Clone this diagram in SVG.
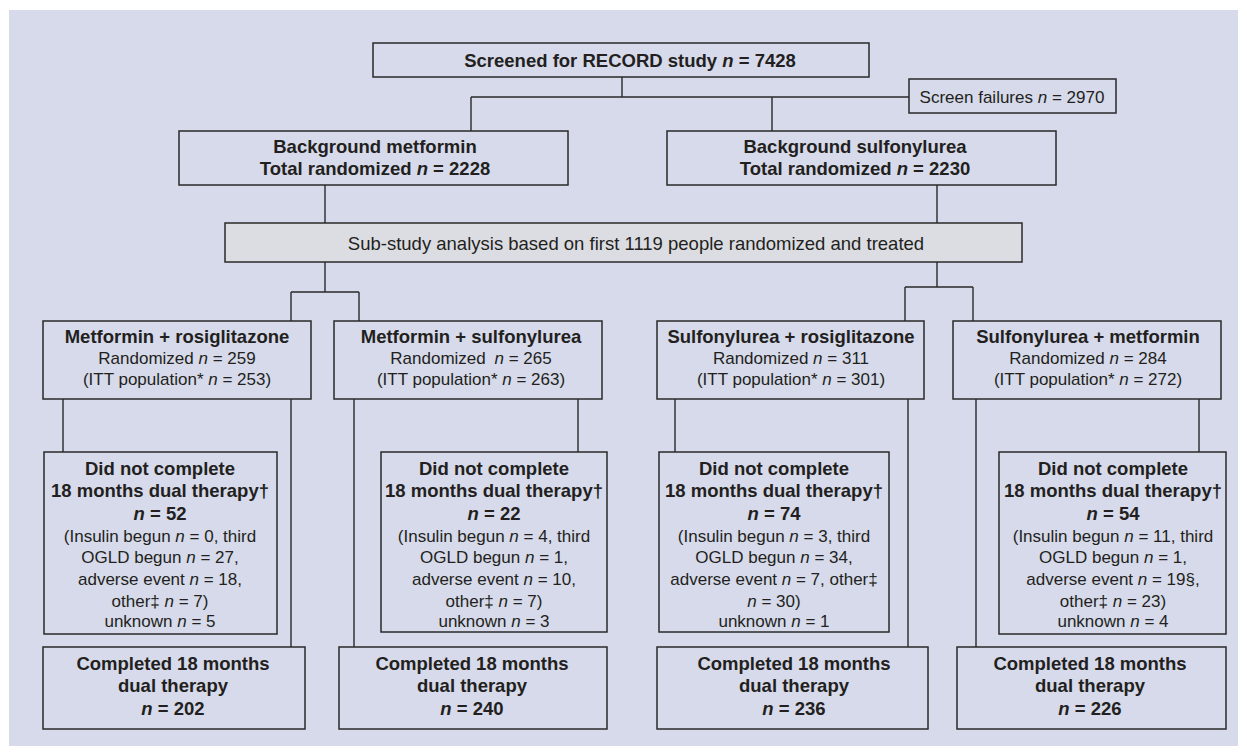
<svg xmlns="http://www.w3.org/2000/svg" width="1247" height="756" viewBox="0 0 1247 756">
<style>
.bg{fill:#D6DAEA}
.box{fill:none;stroke:#2a2a2a;stroke-width:1.5}
.grey{fill:#DCDDE2;stroke:#2a2a2a;stroke-width:1.5}
.ln{fill:none;stroke:#2a2a2a;stroke-width:1.4}
text{font-family:"Liberation Sans",Arial,sans-serif;fill:#231F20;text-anchor:middle}
.b{font-weight:bold;font-size:18.5px}
.r{font-size:17px}
.s{font-size:18.5px}
.i{font-style:italic}
</style>
<rect x="0" y="0" width="1247" height="756" fill="#ffffff"/>
<rect class="bg" x="9" y="10" width="1229" height="736"/>

<g id="connectors">
<path class="ln" d="M622 77V97M471 97H909M471 97V131M772 97V131"/>
<path class="ln" d="M325 185V223M937 185V223"/>
<path class="ln" d="M325 262V292M291 292H359M291 292V321M359 292V321"/>
<path class="ln" d="M937 262V287M905 287H973M905 287V321M973 287V321"/>
<path class="ln" d="M63 399V452M291 399V647"/>
<path class="ln" d="M354 399V647M578 399V452"/>
<path class="ln" d="M675 399V452M908 399V647"/>
<path class="ln" d="M976 399V647M1199 399V452"/>
</g>

<g id="screened">
<rect class="box" x="373" y="43" width="496" height="34"/>
<text class="b" x="630" y="67">Screened for RECORD study <tspan class="i">n</tspan> = 7428</text>
</g>
<g id="screen-failures">
<rect class="box" x="909" y="79" width="207" height="34"/>
<text class="r" x="1012" y="103">Screen failures <tspan class="i">n</tspan> = 2970</text>
</g>
<g id="bg-metformin">
<rect class="box" x="179" y="131" width="389" height="54"/>
<text class="b" x="375" y="153">Background metformin</text>
<text class="b" x="375" y="175">Total randomized <tspan class="i">n</tspan> = 2228</text>
</g>
<g id="bg-sulfonylurea">
<rect class="box" x="667" y="131" width="389" height="54"/>
<text class="b" x="855" y="153">Background sulfonylurea</text>
<text class="b" x="855" y="175">Total randomized <tspan class="i">n</tspan> = 2230</text>
</g>
<g id="substudy">
<rect class="grey" x="225" y="223" width="797" height="39"/>
<text class="s" x="636" y="250" style="font-weight:normal">Sub-study analysis based on first 1119 people randomized and treated</text>
</g>

<g id="arm-met-rosi">
<rect class="box" x="43" y="321" width="268" height="78"/>
<text class="b" x="177" y="343">Metformin + rosiglitazone</text>
<text class="r" x="177" y="364">Randomized <tspan class="i">n</tspan> = 259</text>
<text class="r" x="177" y="385">(ITT population* <tspan class="i">n</tspan> = 253)</text>
</g>
<g id="arm-met-sulf">
<rect class="box" x="334" y="321" width="268" height="78"/>
<text class="b" x="471" y="343">Metformin + sulfonylurea</text>
<text class="r" x="471" y="364">Randomized <tspan class="i" dx="4">n</tspan> = 265</text>
<text class="r" x="471" y="385">(ITT population* <tspan class="i">n</tspan> = 263)</text>
</g>
<g id="arm-sulf-rosi">
<rect class="box" x="657" y="321" width="267" height="78"/>
<text class="b" x="791" y="343">Sulfonylurea + rosiglitazone</text>
<text class="r" x="791" y="364">Randomized <tspan class="i">n</tspan> = 311</text>
<text class="r" x="791" y="385">(ITT population* <tspan class="i">n</tspan> = 301)</text>
</g>
<g id="arm-sulf-met">
<rect class="box" x="953" y="321" width="268" height="78"/>
<text class="b" x="1088" y="343">Sulfonylurea + metformin</text>
<text class="r" x="1088" y="364">Randomized <tspan class="i">n</tspan> = 284</text>
<text class="r" x="1088" y="385">(ITT population* <tspan class="i">n</tspan> = 272)</text>
</g>

<g id="dnc-met-rosi">
<rect class="box" x="44" y="452" width="233" height="182"/>
<text class="b" x="160" y="475">Did not complete</text>
<text class="b" x="160" y="497">18 months dual therapy†</text>
<text class="b" x="160" y="520"><tspan class="i">n</tspan> = 52</text>
<text class="r" x="160" y="542">(Insulin begun <tspan class="i">n</tspan> = 0, third</text>
<text class="r" x="160" y="563">OGLD begun <tspan class="i">n</tspan> = 27,</text>
<text class="r" x="160" y="585">adverse event <tspan class="i">n</tspan> = 18,</text>
<text class="r" x="160" y="607">other‡ <tspan class="i">n</tspan> = 7)</text>
<text class="r" x="160" y="627">unknown <tspan class="i">n</tspan> = 5</text>
</g>
<g id="dnc-met-sulf">
<rect class="box" x="381" y="452" width="226" height="180"/>
<text class="b" x="494" y="475">Did not complete</text>
<text class="b" x="494" y="497">18 months dual therapy†</text>
<text class="b" x="494" y="520"><tspan class="i">n</tspan> = 22</text>
<text class="r" x="494" y="542">(Insulin begun <tspan class="i">n</tspan> = 4, third</text>
<text class="r" x="494" y="563">OGLD begun <tspan class="i">n</tspan> = 1,</text>
<text class="r" x="494" y="585">adverse event <tspan class="i">n</tspan> = 10,</text>
<text class="r" x="494" y="607">other‡ <tspan class="i">n</tspan> = 7)</text>
<text class="r" x="494" y="627">unknown <tspan class="i">n</tspan> = 3</text>
</g>
<g id="dnc-sulf-rosi">
<rect class="box" x="659" y="452" width="230" height="180"/>
<text class="b" x="774" y="475">Did not complete</text>
<text class="b" x="774" y="497">18 months dual therapy†</text>
<text class="b" x="774" y="520"><tspan class="i">n</tspan> = 74</text>
<text class="r" x="774" y="542">(Insulin begun <tspan class="i">n</tspan> = 3, third</text>
<text class="r" x="774" y="563">OGLD begun <tspan class="i">n</tspan> = 34,</text>
<text class="r" x="774" y="585">adverse event <tspan class="i">n</tspan> = 7, other‡</text>
<text class="r" x="774" y="607"><tspan class="i">n</tspan> = 30)</text>
<text class="r" x="774" y="627">unknown <tspan class="i">n</tspan> = 1</text>
</g>
<g id="dnc-sulf-met">
<rect class="box" x="999" y="452" width="227" height="182"/>
<text class="b" x="1113" y="475">Did not complete</text>
<text class="b" x="1113" y="497">18 months dual therapy†</text>
<text class="b" x="1113" y="520"><tspan class="i">n</tspan> = 54</text>
<text class="r" x="1113" y="542">(Insulin begun <tspan class="i">n</tspan> = 11, third</text>
<text class="r" x="1113" y="563">OGLD begun <tspan class="i">n</tspan> = 1,</text>
<text class="r" x="1113" y="585">adverse event <tspan class="i">n</tspan> = 19§,</text>
<text class="r" x="1113" y="607">other‡ <tspan class="i">n</tspan> = 23)</text>
<text class="r" x="1113" y="627">unknown <tspan class="i">n</tspan> = 4</text>
</g>

<g id="done-met-rosi">
<rect class="box" x="43" y="647" width="262" height="82"/>
<text class="b" x="173" y="670">Completed 18 months</text>
<text class="b" x="173" y="692">dual therapy</text>
<text class="b" x="173" y="715"><tspan class="i">n</tspan> = 202</text>
</g>
<g id="done-met-sulf">
<rect class="box" x="339" y="647" width="268" height="82"/>
<text class="b" x="472" y="670">Completed 18 months</text>
<text class="b" x="472" y="692">dual therapy</text>
<text class="b" x="472" y="715"><tspan class="i">n</tspan> = 240</text>
</g>
<g id="done-sulf-rosi">
<rect class="box" x="657" y="647" width="271" height="82"/>
<text class="b" x="794" y="670">Completed 18 months</text>
<text class="b" x="794" y="692">dual therapy</text>
<text class="b" x="794" y="715"><tspan class="i">n</tspan> = 236</text>
</g>
<g id="done-sulf-met">
<rect class="box" x="957" y="647" width="269" height="82"/>
<text class="b" x="1090" y="670">Completed 18 months</text>
<text class="b" x="1090" y="692">dual therapy</text>
<text class="b" x="1090" y="715"><tspan class="i">n</tspan> = 226</text>
</g>
</svg>
